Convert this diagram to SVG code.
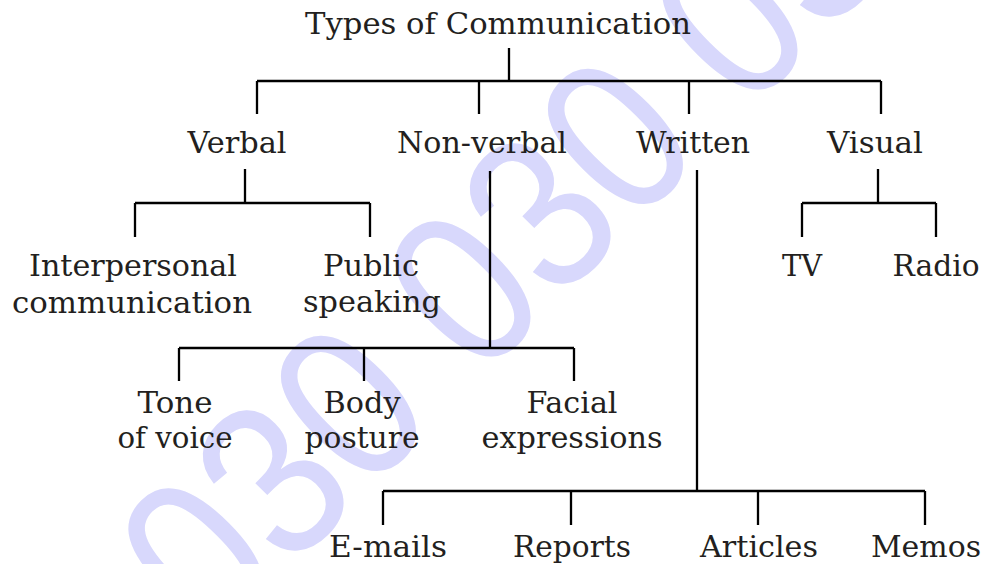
<svg xmlns="http://www.w3.org/2000/svg" width="983" height="564" viewBox="0 0 983 564">
<style>
.bg{fill:#ffffff}
.wm{font-family:"Liberation Sans",Arial,sans-serif;font-size:194px;fill:#d8d8fc}
.ln{stroke:#000000;stroke-width:2.3;fill:none;stroke-linecap:butt}
.t{font-family:"DejaVu Serif","Liberation Serif",serif;font-size:30px;fill:#231f20;text-anchor:middle}
</style>
<rect class="bg" x="0" y="0" width="983" height="564"/>
<g id="watermark">
<text class="wm" transform="translate(212,648) rotate(-45) scale(1,1.14)">030 030 030</text>
</g>
<g id="connectors">
<path class="ln" d="M509,48V81M257,81H881M257,81V114M479,81V114M689,81V114M881,81V114"/>
<path class="ln" d="M245,169V203M135,203H370M135,203V237M370,203V237"/>
<path class="ln" d="M878,169V203M802,203H936M802,203V237M936,203V237"/>
<path class="ln" d="M490,171V348M179,348H574M179,348V381M364,348V381M574,348V381"/>
<path class="ln" d="M697,170V491M383,491H925M383,491V525M571,491V525M758,491V525M925,491V525"/>
</g>
<g id="node-root"><text class="t" x="498" y="34" textLength="386" lengthAdjust="spacingAndGlyphs">Types of Communication</text></g>
<g id="node-verbal"><text class="t" x="237" y="153" textLength="99" lengthAdjust="spacingAndGlyphs">Verbal</text></g>
<g id="node-nonverbal"><text class="t" x="482" y="153" textLength="170" lengthAdjust="spacingAndGlyphs">Non-verbal</text></g>
<g id="node-written"><text class="t" x="693" y="153" textLength="114" lengthAdjust="spacingAndGlyphs">Written</text></g>
<g id="node-visual"><text class="t" x="875" y="153" textLength="96" lengthAdjust="spacingAndGlyphs">Visual</text></g>
<g id="node-interpersonal"><text class="t" x="133" y="276" textLength="208" lengthAdjust="spacingAndGlyphs">Interpersonal</text><text class="t" x="132" y="313" textLength="240" lengthAdjust="spacingAndGlyphs">communication</text></g>
<g id="node-public"><text class="t" x="371" y="276" textLength="96" lengthAdjust="spacingAndGlyphs">Public</text><text class="t" x="372" y="312" textLength="138" lengthAdjust="spacingAndGlyphs">speaking</text></g>
<g id="node-tv"><text class="t" x="802" y="276" textLength="40" lengthAdjust="spacingAndGlyphs">TV</text></g>
<g id="node-radio"><text class="t" x="936" y="276" textLength="87" lengthAdjust="spacingAndGlyphs">Radio</text></g>
<g id="node-tone"><text class="t" x="175" y="413" textLength="75" lengthAdjust="spacingAndGlyphs">Tone</text><text class="t" x="175" y="448" textLength="115" lengthAdjust="spacingAndGlyphs">of voice</text></g>
<g id="node-body"><text class="t" x="362" y="413" textLength="77" lengthAdjust="spacingAndGlyphs">Body</text><text class="t" x="362" y="448" textLength="115" lengthAdjust="spacingAndGlyphs">posture</text></g>
<g id="node-facial"><text class="t" x="572" y="413" textLength="91" lengthAdjust="spacingAndGlyphs">Facial</text><text class="t" x="572" y="448" textLength="181" lengthAdjust="spacingAndGlyphs">expressions</text></g>
<g id="node-emails"><text class="t" x="388" y="557" textLength="118" lengthAdjust="spacingAndGlyphs">E-mails</text></g>
<g id="node-reports"><text class="t" x="572" y="557" textLength="118" lengthAdjust="spacingAndGlyphs">Reports</text></g>
<g id="node-articles"><text class="t" x="759" y="557" textLength="118" lengthAdjust="spacingAndGlyphs">Articles</text></g>
<g id="node-memos"><text class="t" x="926" y="557" textLength="110" lengthAdjust="spacingAndGlyphs">Memos</text></g>
</svg>
